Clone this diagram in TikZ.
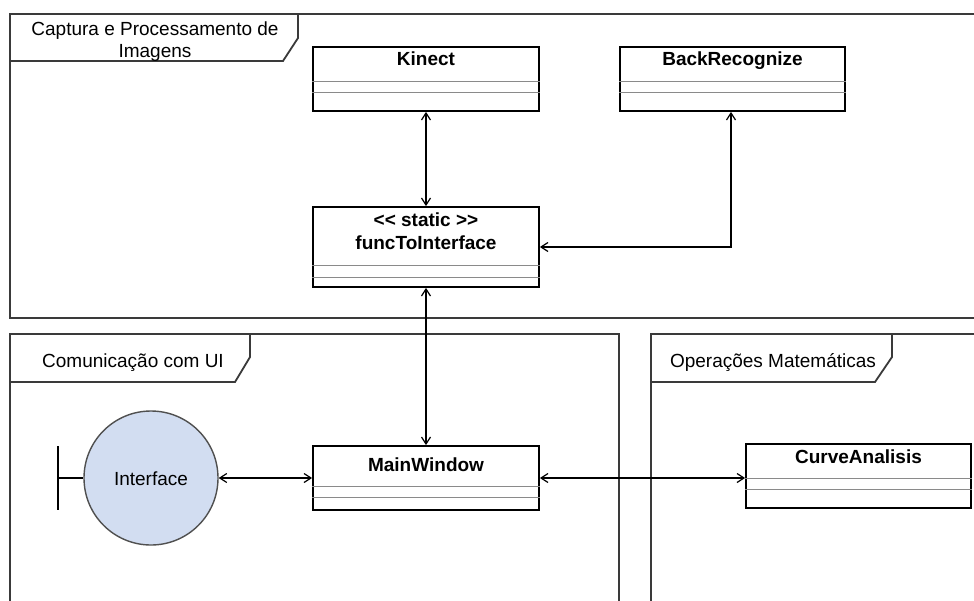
\documentclass[tikz,border=0pt]{standalone}
\usepackage{fontspec}
\setmainfont{Liberation Sans}
\usetikzlibrary{arrows.meta}
\definecolor{framegray}{HTML}{3A3A3A}
\definecolor{sepgray}{HTML}{8A8A8A}
\definecolor{ifaceblue}{HTML}{D2DDF1}
\definecolor{ifaceedge}{HTML}{505050}
\tikzset{
  frameline/.style={draw=framegray, line width=1.8pt},
  classbox/.style={draw=black, line width=1.8pt, fill=white, inner sep=0pt,
    minimum width=226pt, minimum height=64pt},
  sepline/.style={draw=sepgray, line width=1pt},
  classname/.style={anchor=base, inner sep=0pt, font=\fontsize{19}{22}\selectfont\bfseries},
  plaintext/.style={anchor=base, inner sep=0pt, font=\fontsize{19}{22}\selectfont},
  conn/.style={draw=black, line width=1.2pt,
    {Straight Barb[length=7pt,width=9pt]}-{Straight Barb[length=7pt,width=9pt]}},
}
\begin{document}
\begin{tikzpicture}[x=1pt, y=-1pt]
\clip (0,0) rectangle (974,600);
\fill[white] (0,0) rectangle (974,600);

% package frames
\draw[frameline] (990,14) -- (10,14) -- (10,318) -- (990,318);
\draw[frameline] (10,61) -- (283,61) -- (298,38) -- (298,14);
% base anchor of a two-line node sits on the last line
\node[plaintext, align=center] (pkgcapture) at (155,57) {Captura e Processamento de\\Imagens};

\draw[frameline] (10,620) -- (10,334) -- (619,334) -- (619,620);
\draw[frameline] (10,382) -- (235,382) -- (250,357) -- (250,334);
\node[plaintext] (pkgui) at (133,367) {Comunicação com UI};

\draw[frameline] (651,620) -- (651,334) -- (990,334);
\draw[frameline] (651,382) -- (875,382) -- (892,357) -- (892,334);
\node[plaintext] (pkgmath) at (773,367) {Operações Matemáticas};

% classes
\node[classbox] (kinect) at (426,79) {};
\draw[sepline] (kinect.west |- 0,81) -- (kinect.east |- 0,81);
\draw[sepline] (kinect.west |- 0,92) -- (kinect.east |- 0,92);
\node[classname] (kinectname) at (426,65) {Kinect};

\node[classbox, minimum width=225pt] (back) at (732.5,79) {};
\draw[sepline] (back.west |- 0,81) -- (back.east |- 0,81);
\draw[sepline] (back.west |- 0,92) -- (back.east |- 0,92);
\node[classname] (backname) at (732.5,65) {BackRecognize};

\node[classbox, minimum height=80pt] (func) at (426,247) {};
\draw[sepline] (func.west |- 0,265) -- (func.east |- 0,265);
\draw[sepline] (func.west |- 0,277) -- (func.east |- 0,277);
\node[classname] (funcstereo) at (426,226) {{<}{<} static {>}{>}};
\node[classname] (funcname) at (426,249) {funcToInterface};

\node[classbox] (main) at (426,478) {};
\draw[sepline] (main.west |- 0,486) -- (main.east |- 0,486);
\draw[sepline] (main.west |- 0,497) -- (main.east |- 0,497);
\node[classname] (mainname) at (426,471) {MainWindow};

\node[classbox, minimum width=225pt] (curve) at (858.5,476) {};
\draw[sepline] (curve.west |- 0,478) -- (curve.east |- 0,478);
\draw[sepline] (curve.west |- 0,489) -- (curve.east |- 0,489);
\node[classname] (curvename) at (858.5,463) {CurveAnalisis};

% boundary (interface) element
\node[circle, draw=ifaceedge, fill=ifaceblue, line width=1.4pt,
  minimum size=134pt, inner sep=0pt] (iface) at (151,478) {};
\node[plaintext] (ifacename) at (151,485) {Interface};
\coordinate (barmid) at (58,478);
\draw[black, line width=1.4pt] (58,446) -- (58,510);
\draw[black, line width=1.4pt] (barmid) -- (iface.west);

% associations
\draw[conn] (kinect.south) -- (func.north);
\draw[conn] (func.east) -| (back.south -| 731,0);
\draw[conn] (func.south) -- (main.north);
\draw[conn] (iface.east) -- (main.west);
\draw[conn] (main.east) -- (main.east -| curve.west);
\end{tikzpicture}
\end{document}
